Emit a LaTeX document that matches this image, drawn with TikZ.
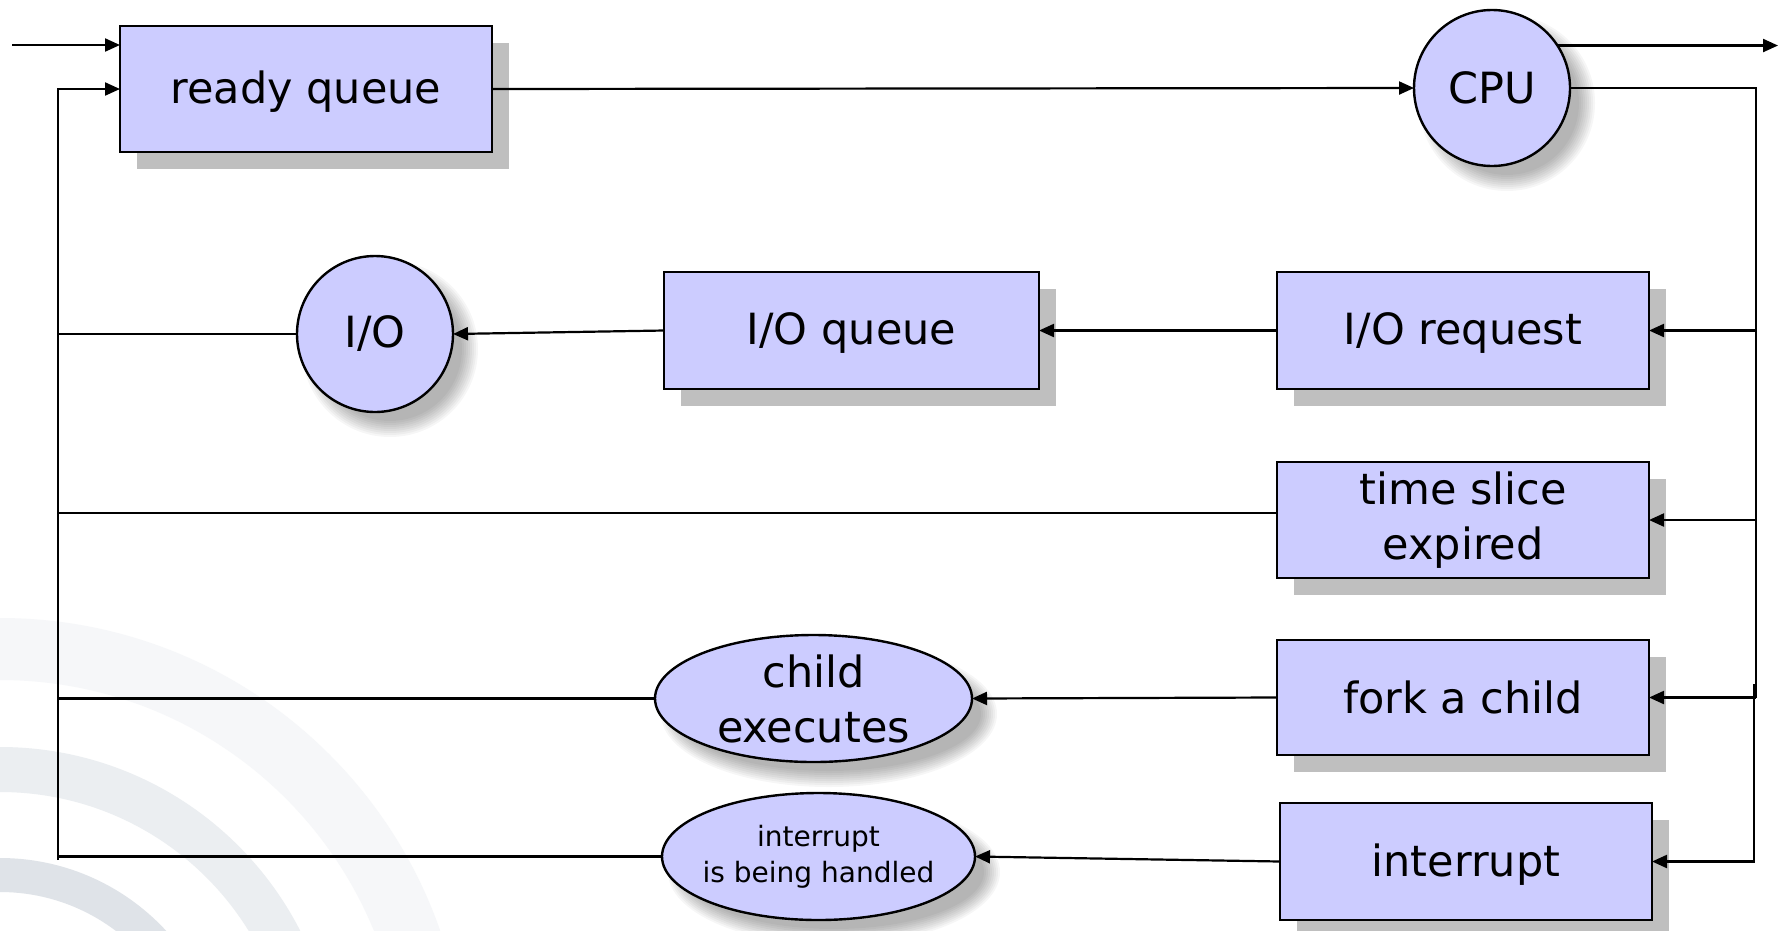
\documentclass[tikz,border=0pt]{standalone}
\usepackage{fontspec}
\setmainfont{DejaVu Sans}
\usetikzlibrary{arrows.meta,shapes.geometric,shadows}
\definecolor{nodefill}{HTML}{CCCCFF}
\definecolor{shadowgray}{HTML}{BFBFBF}
\definecolor{bandA}{HTML}{F6F7F9}
\definecolor{bandB}{HTML}{EBEEF1}
\definecolor{bandC}{HTML}{DFE3E8}
\newcommand\fbig{\fontsize{43}{55}\selectfont}
\newcommand\fsmall{\fontsize{28}{36}\selectfont}
\newcommand\lowertext[1]{\raisebox{-3pt}[\height][\depth]{#1}}
\begin{document}
\begin{tikzpicture}[x=1pt,y=-1pt,
  conn/.style={line width=2.2pt},
  arr/.style={conn,-{Triangle[length=15pt,width=13pt]}},
  shapebase/.style={draw=black,line width=2.4pt,fill=nodefill,inner sep=0pt,outer sep=0pt,align=center,font=\fbig},
  boxnode/.style={shapebase,rectangle,drop shadow={shadow xshift=17pt,shadow yshift=-17pt,fill=shadowgray,opacity=1}},
  roundnode/.style={shapebase,circle,minimum size=156pt},
  ovalnode/.style={shapebase,ellipse,inner xsep=-60pt,inner ysep=-30pt},
  softshade/.style={black,opacity=0.035}
]
\useasboundingbox (0,0) rectangle (1787,930);
\fill[white] (0,0) rectangle (1787,930);
% background arcs
\begin{scope}
\clip (0,0) rectangle (1787,930);
\fill[bandA,even odd rule] (0,1084) circle (466pt) (0,1084) circle (404pt);
\fill[bandB,even odd rule] (0,1084) circle (337pt) (0,1084) circle (292pt);
\fill[bandC,even odd rule] (0,1084) circle (226pt) (0,1084) circle (192pt);
\end{scope}
% soft shadows of round shapes
\foreach \d in {-6,-4,...,10}{
  \pgfmathsetmacro\ra{78+\d}
  \pgfmathsetmacro\rb{158+\d}
  \pgfmathsetmacro\rc{63+\d}
  \pgfmathsetmacro\rd{156+\d}
  \fill[softshade] (1507,103) circle (\ra pt);
  \fill[softshade] (390,349) circle (\ra pt);
  \fill[softshade] (829,714) ellipse [x radius=\rb pt, y radius=\rc pt];
  \fill[softshade] (834,872) ellipse [x radius=\rd pt, y radius=\rc pt];
}
% nodes
\node[boxnode,minimum width=372pt,minimum height=126pt] (rq) at (306,89) {\lowertext{ready queue}};
\node[roundnode] (cpu) at (1492,88) {CPU};
\node[roundnode] (io) at (375,334) {I/O};
\node[boxnode,minimum width=375pt,minimum height=117pt] (ioq) at (851.5,330.5) {\lowertext{I/O queue}};
\node[boxnode,minimum width=372pt,minimum height=117pt] (iorq) at (1463,330.5) {\lowertext{I/O request}};
\node[boxnode,minimum width=372pt,minimum height=116pt] (ts) at (1463,520) {time slice\\expired};
\node[boxnode,minimum width=372pt,minimum height=115pt] (fork) at (1463,697.5) {fork a child};
\node[boxnode,minimum width=372pt,minimum height=117pt] (intr) at (1466,861.5) {\lowertext{interrupt}};
\node[ovalnode,minimum width=317pt,minimum height=127pt] (child) at (813.5,698.5) {child\\executes};
\node[ovalnode,minimum width=313pt,minimum height=127pt,font=\fsmall] (ih) at (818.5,856.5) {interrupt\\is being handled};
% coordinates
\coordinate (in) at (12,45);
\coordinate (out) at (1778,45);
\coordinate (lb) at (58,89);
\coordinate (lbbot) at (58,860);
\coordinate (bus) at (1756,0);
\coordinate (b2) at (1754,684);
\coordinate (tsl) at (0,513);
% connectors
\draw[arr] (in) -- (in -| rq.west);
\draw[arr] (lbbot) -- (lb) -- (rq.west);
\draw[arr] (rq.east) -- (cpu.west);
\draw[arr] (cpu.33.5) -- (cpu.33.5 -| out);
\draw[conn] (cpu.east) -- (cpu.east -| bus) -- (bus |- fork.east);
\draw[arr] (bus |- iorq.east) -- (iorq.east);
\draw[arr] (bus |- ts.east) -- (ts.east);
\draw[arr] (bus |- fork.east) -- (fork.east);
\draw[arr] (b2) -- (b2 |- intr.east) -- (intr.east);
\draw[arr] (iorq.west) -- (ioq.east);
\draw[arr] (ioq.west) -- (io.east);
\draw[conn] (io.west) -- (io.west -| lb);
\draw[conn] (ts.west |- tsl) -- (lb |- tsl);
\draw[arr] (fork.west) -- (child.east);
\draw[conn] (child.west) -- (child.west -| lb);
\draw[arr] (intr.west) -- (ih.east);
\draw[conn] (ih.west) -- (ih.west -| lb);
\end{tikzpicture}
\end{document}
